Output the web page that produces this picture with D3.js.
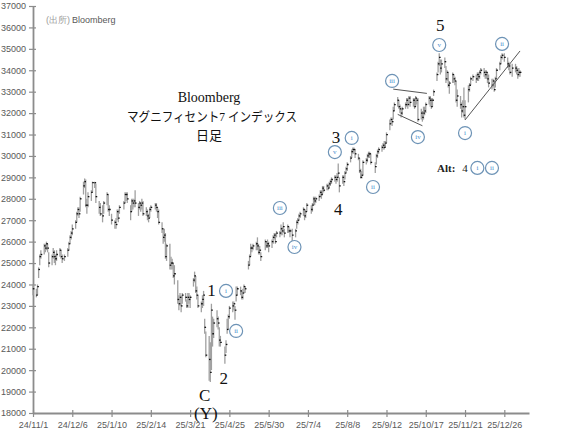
<!DOCTYPE html>
<html><head><meta charset="utf-8">
<script src="https://cdn.jsdelivr.net/npm/d3@7"></script>
<style>body{margin:0;background:#fff}svg{display:block}</style>
</head><body><svg id="c" width="565" height="440"></svg>
<script>
// ---------- DATA ----------
const startDate = "2024-11-01";
const endDate = "2026-01-17";
const holidays = ["2024-11-28","2024-12-25","2025-01-01","2025-01-09","2025-01-20","2025-02-17","2025-04-18",
  "2025-05-26","2025-06-19","2025-07-04","2025-09-01","2025-11-27","2025-12-25","2026-01-01"];

const closes = [
 23800,
 23500,23900,24700,25300,25400,
 25800,25700,25900,25700,25000,
 25300,25500,25300,25200,25400,
 25600,25300,25200,25300,
 25600,25900,26200,26400,26600,
 26900,27300,27500,27300,28000,
 28600,28800,27700,27700,28100,
 28300,28750,28750,28100,
 27600,27300,27200,27800,
 28200,27500,27500,27000,
 26900,26800,27400,27100,27600,
 27800,28200,28200,28000,
 27400,27900,27800,27900,27800,
 27600,27800,27700,27800,27300,
 27400,27200,27100,27500,27600,
 27700,27600,27400,26900,
 26600,26200,26300,25300,25800,
 24900,25000,25000,24400,24500,
 23300,23100,23400,23000,23500,
 23400,23000,23400,23300,23400,
 24200,24400,23700,23500,23000,
 23100,23300,23500,22000,20700,
 20500,19900,22800,21700,22200,
 22400,22200,21400,21300,
 20700,21200,21900,22500,22900,
 23000,23100,22800,23500,23800,
 23700,23400,23600,23900,23800,
 24900,25300,25700,25700,25800,
 25900,25800,25500,25600,25300,
 26000,25800,25900,25800,
 26000,26200,26300,26000,26400,
 26400,26600,26500,26700,26400,
 26700,26500,26500,26300,
 26500,26900,27000,27200,27300,
 27500,27200,27400,27700,
 27500,27700,28000,27900,28000,
 28100,28300,28200,28500,28400,
 28600,28500,28700,28800,28900,
 29000,28900,29000,29200,28600,
 29000,28800,29200,29400,29600,
 29900,30200,30300,30300,30100,
 29900,29300,29000,29100,29700,
 29800,30000,30100,30100,29700,
 29500,30000,30200,30300,
 30400,30500,30400,30600,31000,
 31500,31700,31600,32100,32400,
 32600,32300,32200,32000,32200,
 32400,32600,32400,32700,32500,
 32600,32300,32700,32600,31700,
 32000,31800,32000,32100,32400,
 32700,32600,32300,32600,33000,
 33800,34300,34600,34100,34300,
 34400,33600,33900,33300,33400,
 33800,33600,33500,32600,32800,
 32400,32100,32300,31900,32300,
 33100,33300,33600,33700,
 33600,33800,33700,33900,34000,
 33900,33800,33900,33600,33400,
 33300,33500,33100,33600,34000,
 34300,34600,34700,34600,
 34300,34200,33900,34100,
 34100,34000,33800,33900,33900
];
const highs = [
 24000,
 23800,24000,24800,25400,25600,
 25900,25900,26000,25900,25500,
 25400,25700,25600,25400,25600,
 25700,25600,25400,25400,
 25700,26000,26300,26500,26800,
 27000,27400,27600,27600,28100,
 28800,28950,28900,28000,28300,
 28400,28800,28800,28700,
 27900,27800,27700,27900,
 28300,28200,27700,27300,
 27000,27100,27500,27500,27700,
 27900,28300,28300,28300,
 27700,28000,28000,28000,28400,
 27800,27900,27800,28000,27900,
 27600,27500,27300,27600,27700,
 27800,27800,27600,27500,
 26900,26600,26600,26400,25900,
 25900,25300,25200,25000,24900,
 24200,23500,23600,23500,23600,
 23600,23300,23600,23600,23500,
 24300,24600,24400,23900,23500,
 23200,23500,23700,22400,21800,
 21600,21300,23100,22500,22400,
 22800,22500,22000,21600,
 21100,21400,22400,22600,23000,
 23200,23200,23000,23900,23900,
 23900,23700,23800,24000,23900,
 25100,25400,25900,25800,25900,
 26000,26200,25900,25800,25500,
 26100,26000,26100,26000,
 26100,26300,26400,26400,26500,
 26500,26800,26700,26900,26600,
 26800,26700,26600,26600,
 26600,27000,27100,27300,27400,
 27600,27500,27500,27800,
 27700,27800,28100,28100,28100,
 28200,28400,28400,28600,28600,
 28700,28700,28800,28900,29000,
 29100,29100,29200,29650,29000,
 29100,29100,29300,29500,29700,
 30000,30300,30400,30400,30300,
 30100,29900,29400,29300,29800,
 29900,30100,30200,30200,30100,
 29700,30100,30300,30400,
 30500,30600,30700,30700,31100,
 31700,31800,31800,32300,32500,
 32750,32600,32400,32200,32300,
 32500,32700,32700,32800,32800,
 32700,32700,32800,32700,32700,
 32200,32100,32300,32300,32500,
 32800,32800,32700,32700,33100,
 33900,34400,34800,34500,34500,
 34600,34200,34000,33900,33500,
 33900,33800,33700,33500,33100,
 32800,32500,32600,33200,32600,
 33300,33400,33700,33800,
 33800,33900,33900,34000,34100,
 34100,34000,34000,33900,33800,
 33600,33600,33500,33700,34100,
 34400,34700,34800,34800,
 34600,34400,34300,34300,
 34300,34200,34100,34100,34000
];
const lows = [
 23500,
 23400,23500,24300,24900,25200,
 25400,25500,25600,25500,24800,
 24900,25200,25000,24900,25100,
 25300,25200,25000,25100,
 25300,25600,25900,26100,26300,
 26600,26900,27200,27100,27400,
 28200,28500,27600,27300,27600,
 27900,28300,28500,27800,
 27300,27200,26900,27300,
 27700,27400,27200,26800,
 26600,26600,27000,26900,27300,
 27500,27800,27900,27800,
 27000,27400,27500,27600,27600,
 27200,27500,27400,27500,27200,
 27200,27000,26900,27100,27400,
 27500,27400,27100,26800,
 26400,25900,26000,25200,25100,
 24700,24700,24700,24300,24000,
 23100,22800,23000,22700,23100,
 23200,22900,22900,23100,22900,
 23900,24100,23600,23300,22900,
 22700,22900,23000,21700,20600,
 19500,19450,20000,21100,21500,
 22000,21900,21100,21100,
 20300,20800,21700,21900,22400,
 22700,22800,22350,23200,23500,
 23500,23300,23300,23600,23600,
 24700,24900,25300,25500,25600,
 25600,25600,25400,25400,25100,
 25600,25700,25700,25500,
 25700,25900,26100,25900,26200,
 26200,26300,26300,26400,26200,
 26400,26400,26200,26000,
 26200,26600,26800,27000,27100,
 27200,27000,27100,27400,
 27300,27400,27700,27700,27800,
 27900,28100,28000,28200,28300,
 28400,28400,28500,28600,28700,
 28800,28700,28800,29000,28300,
 28700,28600,28900,29200,29300,
 29700,29900,30100,30100,29900,
 29800,29200,28950,28950,29100,
 29600,29700,29900,29900,29600,
 29200,29600,29900,30100,
 30200,30300,30300,30400,30600,
 31200,31500,31400,31700,32100,
 32300,32200,32000,31800,31900,
 32200,32300,32200,32400,32300,
 32300,32200,32300,32400,31600,
 31700,31600,31700,31900,32000,
 32400,32300,32200,32300,32800,
 33500,33900,34200,33800,33900,
 34100,33400,33500,33200,32900,
 33400,33400,33300,32500,32300,
 32200,31800,32000,31800,31700,
 32500,33000,33300,33500,
 33400,33500,33500,33600,33800,
 33700,33600,33600,33400,33200,
 33100,33200,33000,33200,33600,
 34000,34300,34500,34400,
 34100,34000,33800,33700,
 33900,33800,33600,33700,33700
];

const xTickLabels = ["24/11/1","24/12/6","25/1/10","25/2/14","25/3/21","25/4/25","25/5/30",
  "25/7/4","25/8/8","25/9/12","25/10/17","25/11/21","25/12/26"];
const yTicks = [18000,19000,20000,21000,22000,23000,24000,25000,26000,27000,28000,29000,30000,
  31000,32000,33000,34000,35000,36000,37000];

const titleLines = ["Bloomberg","マグニフィセント7 インデックス","日足"];
const sourceNote = ["(出所)","Bloomberg"];

const waveLabels = [
  {text:"1", date:"2025-04-09", value:23740},
  {text:"2", date:"2025-04-20", value:19630},
  {text:"C", date:"2025-04-03", value:18840},
  {text:"(Y)", date:"2025-04-04", value:18000},
  {text:"3", date:"2025-07-29", value:30880},
  {text:"4", date:"2025-07-31", value:27480},
  {text:"5", date:"2025-10-30", value:36110}
];
const circleLabels = [
  {text:"i",   date:"2025-04-22", value:23700},
  {text:"ii",  date:"2025-05-01", value:21830},
  {text:"iii", date:"2025-06-09", value:27570},
  {text:"iv",  date:"2025-06-22", value:25750},
  {text:"v",   date:"2025-07-28", value:30180},
  {text:"i",   date:"2025-08-12", value:30840},
  {text:"ii",  date:"2025-08-31", value:28550},
  {text:"iii", date:"2025-09-17", value:33500},
  {text:"iv",  date:"2025-10-10", value:30880},
  {text:"v",   date:"2025-10-29", value:35180},
  {text:"i",   date:"2025-11-21", value:31070},
  {text:"ii",  date:"2025-12-24", value:35230},
  {text:"i",   date:"2025-12-02", value:29440},
  {text:"ii",  date:"2025-12-15", value:29440}
];
const altLabel = {parts:["Alt:","4"], date:"2025-10-27", value:29440};
const guideLines = [
  {from:["2025-09-18",33120], to:["2025-10-18",32920]},
  {from:["2025-09-22",31940], to:["2025-10-14",31410]},
  {from:["2025-11-21",31680], to:["2026-01-09",34900]}
];

// ---------- CHART ----------
const svg = d3.select("#c");
const parse = d3.timeParse("%Y-%m-%d");
const fmt = d3.timeFormat("%Y-%m-%d");
const hol = new Set(holidays);
const days = [];
let d = parse(startDate);
while (days.length < closes.length) {
  const dow = d.getDay();
  if (dow !== 0 && dow !== 6 && !hol.has(fmt(d))) days.push(new Date(d));
  d = d3.timeDay.offset(d, 1);
}
const bars = closes.map((c, i) => ({
  date: days[i], open: i ? closes[i-1] : c, high: highs[i], low: lows[i], close: c
}));

const x = d3.scaleTime().domain([parse(startDate), parse(endDate)]).range([33, 529]);
const y = d3.scaleLinear().domain([18000, 37000]).range([413, 6]);

const axisColor = "#8c8c8c";
const labelColor = "#595959";
const tickFont = "'Liberation Sans', Arial, sans-serif";

// Y axis
const yAxis = d3.axisLeft(y).tickValues(yTicks).tickSize(0).tickPadding(7).tickFormat(d3.format("d"));
const gy = svg.append("g").attr("transform", "translate(33,0)").call(yAxis);
gy.select(".domain").attr("stroke", axisColor).attr("stroke-width", 1.8);
gy.selectAll(".tick line").attr("x1", -4).attr("x2", 3).attr("stroke", axisColor).attr("stroke-width", 1.2);
gy.selectAll(".tick text").attr("fill", labelColor).style("font-family", tickFont).style("font-size", "9px");

// X axis
const xParse = d3.timeParse("%y/%m/%d");
const xTickDates = xTickLabels.map(s => xParse(s));
const xAxis = d3.axisBottom(x).tickValues(xTickDates).tickSize(0).tickPadding(9)
  .tickFormat((t, i) => xTickLabels[i]);
const gx = svg.append("g").attr("transform", "translate(0,413)").call(xAxis);
gx.select(".domain").attr("stroke", axisColor).attr("stroke-width", 1.8);
gx.selectAll(".tick line").attr("y1", -3).attr("y2", 4).attr("stroke", axisColor).attr("stroke-width", 1.2);
gx.selectAll(".tick text").attr("fill", labelColor).style("font-family", tickFont).style("font-size", "9px");

// OHLC bars
const g = svg.append("g");
g.selectAll("line.hl").data(bars).join("line").attr("class","hl")
  .attr("x1", b => x(b.date)).attr("x2", b => x(b.date))
  .attr("y1", b => y(b.high)).attr("y2", b => y(b.low))
  .attr("stroke", "#a0a0a0").attr("stroke-width", 1.3);
g.selectAll("line.cl").data(bars).join("line").attr("class","cl")
  .attr("x1", b => x(b.date) - 0.2).attr("x2", b => x(b.date) + 1.4)
  .attr("y1", b => y(b.close)).attr("y2", b => y(b.close))
  .attr("stroke", "#111").attr("stroke-width", 1.3);

// Guide lines
svg.append("g").selectAll("line").data(guideLines).join("line")
  .attr("x1", l => x(parse(l.from[0]))).attr("y1", l => y(l.from[1]))
  .attr("x2", l => x(parse(l.to[0]))).attr("y2", l => y(l.to[1]))
  .attr("stroke", "#555").attr("stroke-width", 1);

// Source note
const src = svg.append("text").attr("x", 46).attr("y", 23)
  .style("font-family", tickFont).style("font-size", "9px");
src.append("tspan").attr("fill", "#9a9a9a").text(sourceNote[0]);
src.append("tspan").attr("fill", labelColor).attr("dx", 2).text(sourceNote[1]);

// Title
const serif = "'Liberation Serif', 'Noto Sans CJK JP', serif";
const titleY = [102, 121, 140];
const titleX = [209, 212, 209];
titleLines.forEach((t, i) => {
  const tx = svg.append("text").attr("x", titleX[i]).attr("y", titleY[i]).attr("text-anchor", "middle")
    .attr("fill", "#111").style("font-family", serif)
    .style("font-size", i === 0 ? "14px" : "13px").text(t);
  if (i === 1) tx.attr("textLength", 170).attr("lengthAdjust", "spacingAndGlyphs");
});

// Wave labels
svg.append("g").selectAll("text").data(waveLabels).join("text")
  .attr("x", w => x(parse(w.date))).attr("y", w => y(w.value))
  .attr("text-anchor", "middle").attr("dominant-baseline", "central")
  .attr("fill", "#111").style("font-family", "'Liberation Serif', serif").style("font-size", "17px")
  .text(w => w.text);

// Circled labels
const cg = svg.append("g").selectAll("g").data(circleLabels).join("g")
  .attr("transform", c => `translate(${x(parse(c.date))},${y(c.value)})`);
cg.append("circle").attr("r", 6.5).attr("fill", "#fff").attr("stroke", "#6d93b6").attr("stroke-width", 1.2);
cg.append("text").attr("text-anchor", "middle").attr("dominant-baseline", "central")
  .attr("fill", "#4a90d0").style("font-family", "'Liberation Serif', serif").style("font-size", "7px")
  .text(c => c.text);

// Alt label
const alt = svg.append("text").attr("x", x(parse(altLabel.date))).attr("y", y(altLabel.value))
  .attr("dominant-baseline", "central").attr("fill", "#222")
  .style("font-family", "'Liberation Serif', serif").style("font-size", "11px");
alt.append("tspan").style("font-weight", "bold").text(altLabel.parts[0]);
alt.append("tspan").attr("dx", 7).text(altLabel.parts[1]);
</script></body></html>
